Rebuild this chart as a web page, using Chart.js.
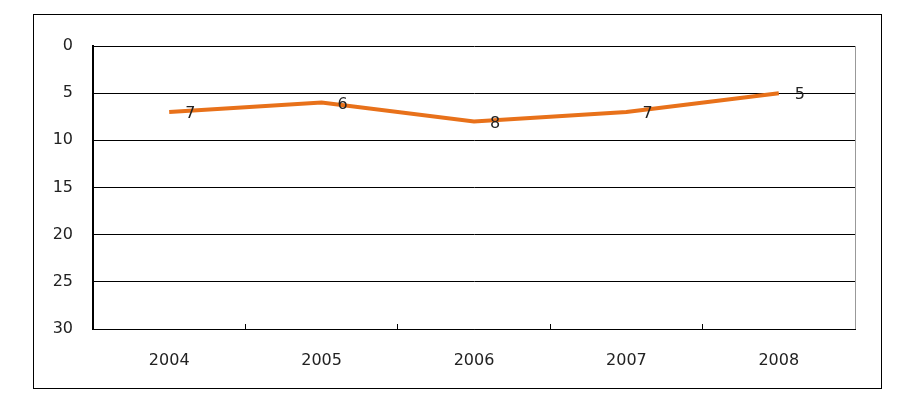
<!DOCTYPE html>
<html>
<head>
<meta charset="utf-8">
<script src="https://cdn.jsdelivr.net/npm/chart.js@4"></script>
<style>
  body { margin: 0; background: #fff; }
  #frame { position: absolute; left: 33px; top: 14px; width: 847px; height: 373px; border: 1px solid #000; }
  #rankChart { position: absolute; left: 0; top: 0; }
</style>
</head>
<body>
<div id="frame"></div>
<canvas id="rankChart" width="909" height="400"></canvas>
<script>
// categories and ranks
const years = ['2004', '2005', '2006', '2007', '2008'];
const ranks = [7, 6, 8, 7, 5];
const yTicks = [0, 5, 10, 15, 20, 25, 30];

const FONT = { family: 'DejaVu Sans', size: 16 };

// labels to the right of each point, plus the grey right edge of the plot
const extras = {
    id: 'extras',
    afterDatasetsDraw(chart) {
        const ctx = chart.ctx;
        const meta = chart.getDatasetMeta(0);
        ctx.save();
        ctx.font = '16px "DejaVu Sans"';
        ctx.fillStyle = '#222';
        ctx.textAlign = 'left';
        ctx.textBaseline = 'middle';
        meta.data.forEach((pt, i) => {
            ctx.fillText(String(ranks[i]), pt.x + 16, pt.y + 2);
        });
        const a = chart.chartArea;
        ctx.strokeStyle = '#999';
        ctx.lineWidth = 1;
        ctx.beginPath();
        ctx.moveTo(a.right + 0.5, a.top);
        ctx.lineTo(a.right + 0.5, a.bottom);
        ctx.stroke();
        ctx.restore();
    }
};

new Chart(document.getElementById('rankChart'), {
    type: 'line',
    data: {
        labels: years,
        datasets: [{
            data: ranks,
            borderColor: '#E8711A',
            borderWidth: 4,
            pointRadius: 0,
            tension: 0
        }]
    },
    options: {
        responsive: false,
        animation: false,
        devicePixelRatio: 1,
        layout: { padding: { left: 40, top: 46, right: 54, bottom: 21 } },
        plugins: { legend: { display: false }, tooltip: { enabled: false } },
        scales: {
            x: {
                offset: true,
                grid: { offset: true, drawOnChartArea: false, color: '#000', tickLength: -5 },
                border: { color: '#000', width: 1 },
                ticks: { font: FONT, color: '#222', padding: 27 },
                afterFit(scale) { scale.height = 50; }
            },
            y: {
                reverse: true,
                min: 0,
                max: 30,
                afterBuildTicks(scale) { scale.ticks = yTicks.map(v => ({ value: v })); },
                grid: { color: '#000', lineWidth: 1, drawTicks: false },
                border: { color: '#000', width: 2 },
                ticks: { font: FONT, color: '#222', padding: 20 },
                afterFit(scale) { scale.width = 53; }
            }
        }
    },
    plugins: [extras]
});
</script>
</body>
</html>
